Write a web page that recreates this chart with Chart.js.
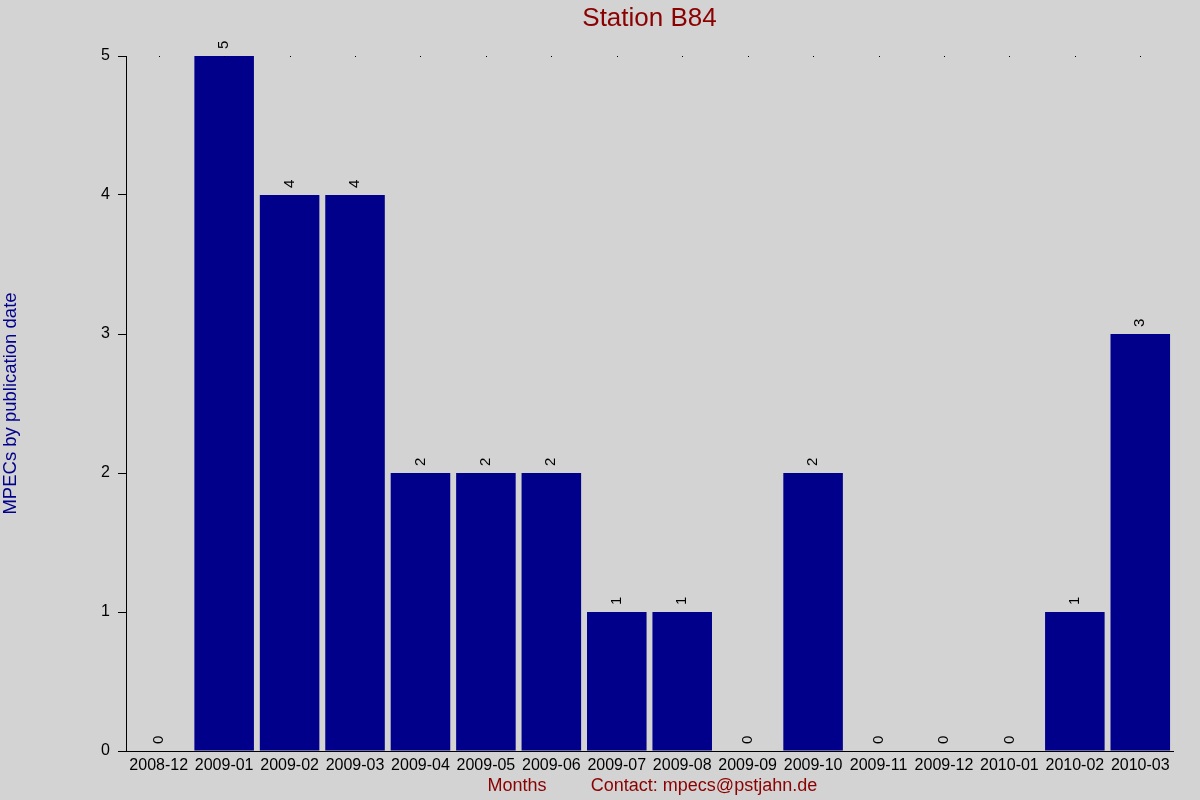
<!DOCTYPE html>
<html>
<head>
<meta charset="utf-8">
<script src="https://cdn.jsdelivr.net/npm/chart.js@4.4.1/dist/chart.umd.min.js"></script>
<style>
  body { margin: 0; background: #d3d3d3; }
  #wrap { width: 1200px; height: 800px; }
</style>
</head>
<body>
<div id="wrap"><canvas id="mpecChart"></canvas></div>
<script>
const months = ["2008-12", "2009-01", "2009-02", "2009-03", "2009-04", "2009-05", "2009-06", "2009-07",
                "2009-08", "2009-09", "2009-10", "2009-11", "2009-12", "2010-01", "2010-02", "2010-03"];
const counts = [0, 5, 4, 4, 2, 2, 2, 1, 1, 0, 2, 0, 0, 0, 1, 3];
const yTicks = [0, 1, 2, 3, 4, 5];

const titleText = "Station B84";
const yTitle = "MPECs by publication date";
const xTitle = "Months";
const contactText = "Contact: mpecs@pstjahn.de";

const font = "'Liberation Sans', Arial, sans-serif";

// value labels, top dots and the texts around the plot
const extras = {
    id: "extras",
    afterDraw(chart) {
        const c = chart.ctx;
        const area = chart.chartArea;
        const x = chart.scales.x;
        const y = chart.scales.y;
        c.save();

        // small dots along the top line
        c.fillStyle = "#000";
        months.forEach((m, i) => {
            c.fillRect(Math.round(x.getPixelForValue(i)), Math.round(y.getPixelForValue(5)), 1, 1);
        });

        // rotated value labels
        c.font = "15px " + font;
        c.textAlign = "left";
        c.textBaseline = "middle";
        chart.getDatasetMeta(0).data.forEach((bar, i) => {
            c.save();
            c.translate(bar.x, bar.y - 7);
            c.rotate(-Math.PI / 2);
            c.fillText(String(counts[i]), 0, 0);
            c.restore();
        });

        // title
        c.textAlign = "center";
        c.fillStyle = "#8b0000";
        c.font = "26px " + font;
        c.fillText(titleText, (area.left + area.right) / 2, 19);

        // bottom texts
        c.font = "18px " + font;
        c.fillText(xTitle, 517, 786);
        c.fillText(contactText, 704, 786);

        // y title
        c.fillStyle = "#00008b";
        c.font = "18.5px " + font;
        c.save();
        c.translate(11, (area.top + area.bottom) / 2);
        c.rotate(-Math.PI / 2);
        c.fillText(yTitle, 0, 0);
        c.restore();

        c.restore();
    }
};

const ctx = document.getElementById("mpecChart");

const mpecChart = new Chart(ctx, {
    type: "bar",
    data: {
        labels: months,
        datasets: [{
            data: counts,
            backgroundColor: "#00008b",
            borderWidth: 0,
            barPercentage: 0.91,
            categoryPercentage: 1
        }]
    },
    options: {
        responsive: true,
        maintainAspectRatio: false,
        animation: false,
        layout: { padding: { top: 56, right: 27, left: 0, bottom: 0 } },
        plugins: {
            legend: { display: false },
            tooltip: { enabled: false }
        },
        scales: {
            x: {
                grid: { display: false, drawTicks: false },
                border: { display: true, color: "#000", width: 1 },
                ticks: { color: "#000", font: { size: 16, family: font }, padding: 5, maxRotation: 0, autoSkip: false },
                afterFit(scale) { scale.height = 49; }
            },
            y: {
                min: 0,
                max: 5,
                afterBuildTicks(scale) { scale.ticks = yTicks.map(v => ({ value: v })); },
                grid: { drawOnChartArea: false, drawTicks: true, tickLength: 8, color: "#000" },
                border: { display: true, color: "#000", width: 1 },
                ticks: { color: "#000", font: { size: 16, family: font }, padding: 8 },
                afterFit(scale) { scale.width = 126; }
            }
        }
    },
    plugins: [extras]
});
</script>
</body>
</html>
